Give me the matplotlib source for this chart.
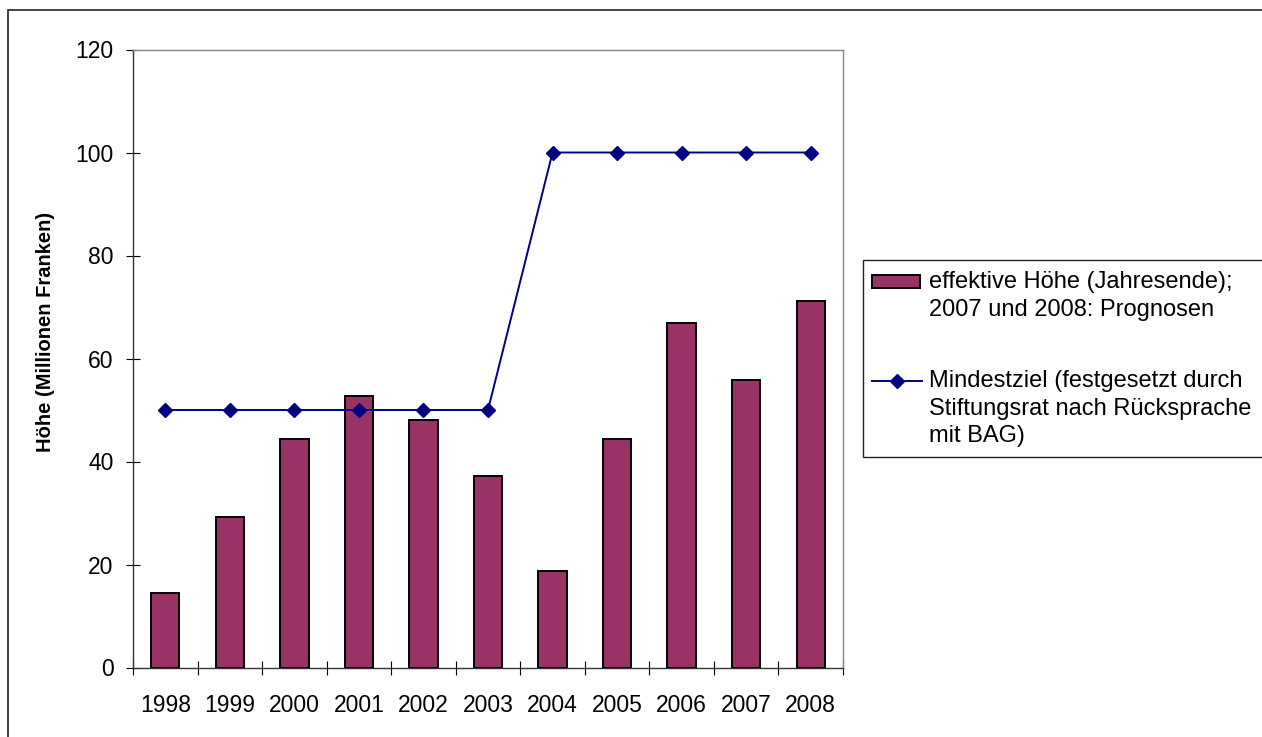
import matplotlib
matplotlib.use("Agg")
import matplotlib.pyplot as plt
import numpy as np
from matplotlib.lines import Line2D
from matplotlib.patches import Rectangle

plt.rcParams['font.family'] = ['Liberation Sans', 'DejaVu Sans']

years = ['1998', '1999', '2000', '2001', '2002', '2003',
         '2004', '2005', '2006', '2007', '2008']
effective = [14.4, 29.3, 44.3, 52.8, 48.0, 37.2, 18.7, 44.4, 66.8, 55.9, 71.1]
target = [50, 50, 50, 50, 50, 50, 100, 100, 100, 100, 100]

bar_label = ['effektive Höhe (Jahresende);', '2007 und 2008: Prognosen']
line_label = ['Mindestziel (festgesetzt durch',
              'Stiftungsrat nach Rücksprache', 'mit BAG)']

W, H = 1262, 737
bar_color = '#993366'
line_color = '#000080'


def fx(x):
    return x / W


def fy(y):
    return 1 - y / H


fig = plt.figure(figsize=(W / 100, H / 100), dpi=100)
ax = fig.add_axes([fx(133), fy(667.5), fx(843) - fx(133), fy(49.5) - fy(667.5)])

x = np.arange(len(years))
ax.bar(x, effective, width=0.44, color=bar_color, edgecolor='black',
       linewidth=1.4, zorder=2)
ax.plot(x, target, color=line_color, linewidth=1.4, marker='D',
        markersize=7, zorder=3)

ax.set_xlim(-0.5, len(years) - 0.5)
ax.set_ylim(0, 120)
ax.set_yticks(np.arange(0, 121, 20))

ax.set_xticks(x)
ax.set_xticklabels(years)
ax.set_xticks(np.arange(-0.5, len(years), 1), minor=True)
ax.tick_params(axis='x', which='major', length=0, pad=19, labelsize=16.5)
ax.tick_params(axis='x', which='minor', direction='inout', length=10,
               width=0.8, color='black')
ax.tick_params(axis='y', which='major', direction='inout', length=10,
               width=0.8, pad=9, labelsize=16.5)

for side in ['left', 'bottom']:
    ax.spines[side].set_color('#333333')
    ax.spines[side].set_linewidth(1.0)
for side in ['top', 'right']:
    ax.spines[side].set_color('#888888')
    ax.spines[side].set_linewidth(1.0)

fig.text(fx(46), fy(332), 'Höhe (Millionen Franken)', rotation=90,
         ha='center', va='center', fontsize=14.5, fontweight='bold')

# outer chart border (cut by the image edge at right and bottom)
fig.patches.append(Rectangle((fx(8), fy(745)), fx(1275) - fx(8), fy(10) - fy(745),
                             transform=fig.transFigure, fill=False,
                             edgecolor='#222222', linewidth=1.2))

# legend box
fig.patches.append(Rectangle((fx(863), fy(457)), fx(1275) - fx(863),
                             fy(260) - fy(457), transform=fig.transFigure,
                             fill=False, edgecolor='#222222', linewidth=1.0))
fig.patches.append(Rectangle((fx(872), fy(288)), fx(920) - fx(872),
                             fy(275) - fy(288), transform=fig.transFigure,
                             facecolor=bar_color, edgecolor='black',
                             linewidth=1.4))
fig.lines.append(Line2D([fx(872), fx(922)], [fy(381), fy(381)],
                        transform=fig.transFigure, color=line_color,
                        linewidth=1.4))
fig.lines.append(Line2D([fx(897)], [fy(381)], transform=fig.transFigure,
                        color=line_color, marker='D', markersize=7))

for i, txt in enumerate(bar_label):
    fig.text(fx(929), fy(288 + 28 * i), txt, fontsize=17, va='baseline')
for i, txt in enumerate(line_label):
    fig.text(fx(929), fy(387 + 27.5 * i), txt, fontsize=17, va='baseline')

fig.savefig('out.png', dpi=100)
